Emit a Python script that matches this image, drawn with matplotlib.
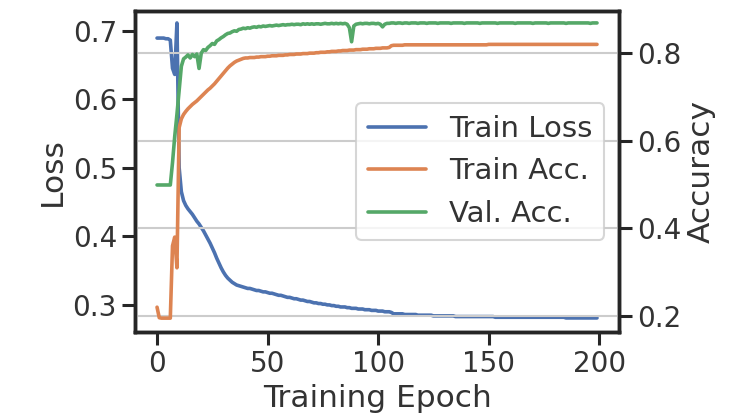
import numpy as np
import matplotlib.pyplot as plt
import seaborn as sns

sns.set_theme(style="ticks", context="talk")
plt.rcParams['font.family'] = ['DejaVu Sans']
plt.rcParams['axes.linewidth'] = 2.5
plt.rcParams['xtick.major.size'] = 9.5
plt.rcParams['ytick.major.size'] = 9.5
plt.rcParams['xtick.major.width'] = 2.2
plt.rcParams['ytick.major.width'] = 2.2
plt.rcParams['text.color'] = '.2'
plt.rcParams['axes.labelcolor'] = '.2'
plt.rcParams['xtick.labelcolor'] = '.2'
plt.rcParams['ytick.labelcolor'] = '.2'

# values, one per epoch (0..199)
train_loss = [
    0.689, 0.689, 0.689, 0.689, 0.688, 0.688, 0.686, 0.645, 0.636, 0.711,
    0.500, 0.465, 0.452, 0.445, 0.440, 0.436, 0.432, 0.427, 0.422, 0.418,
    0.413, 0.408, 0.402, 0.396, 0.390, 0.383, 0.376, 0.368, 0.361, 0.354,
    0.348, 0.343, 0.339, 0.336, 0.333, 0.331, 0.329, 0.328, 0.327, 0.326,
    0.325, 0.324, 0.324, 0.323, 0.322, 0.321, 0.321, 0.320, 0.319, 0.319,
    0.318, 0.317, 0.317, 0.316, 0.315, 0.314, 0.314, 0.313, 0.312, 0.311,
    0.311, 0.310, 0.309, 0.309, 0.308, 0.307, 0.307, 0.306, 0.305, 0.305,
    0.304, 0.303, 0.303, 0.302, 0.302, 0.301, 0.301, 0.300, 0.300, 0.299,
    0.299, 0.298, 0.298, 0.297, 0.297, 0.297, 0.296, 0.296, 0.295, 0.295,
    0.295, 0.294, 0.294, 0.294, 0.293, 0.293, 0.293, 0.292, 0.292, 0.292,
    0.291, 0.291, 0.291, 0.290, 0.290, 0.290, 0.289, 0.287, 0.287, 0.287,
    0.287, 0.287, 0.286, 0.286, 0.286, 0.286, 0.286, 0.286, 0.285, 0.285,
    0.285, 0.285, 0.285, 0.285, 0.285, 0.284, 0.284, 0.284, 0.284, 0.284,
    0.284, 0.284, 0.284, 0.284, 0.284, 0.283, 0.283, 0.283, 0.283, 0.283,
    0.283, 0.283, 0.283, 0.283, 0.283, 0.283, 0.283, 0.283, 0.283, 0.283,
    0.283, 0.283, 0.283, 0.282, 0.282, 0.282, 0.282, 0.282, 0.282, 0.282,
    0.282, 0.282, 0.282, 0.282, 0.282, 0.282, 0.282, 0.282, 0.282, 0.282,
    0.282, 0.282, 0.282, 0.282, 0.282, 0.282, 0.282, 0.282, 0.282, 0.282,
    0.282, 0.282, 0.282, 0.282, 0.282, 0.281, 0.281, 0.281, 0.281, 0.281,
    0.281, 0.281, 0.281, 0.281, 0.281, 0.281, 0.281, 0.281, 0.281, 0.281,
]

train_acc = [
    0.220, 0.196, 0.195, 0.195, 0.195, 0.195, 0.195, 0.360, 0.380, 0.310,
    0.630, 0.650, 0.660, 0.667, 0.673, 0.678, 0.683, 0.687, 0.691, 0.696,
    0.701, 0.706, 0.711, 0.716, 0.720, 0.725, 0.730, 0.736, 0.742, 0.748,
    0.754, 0.760, 0.766, 0.771, 0.775, 0.779, 0.782, 0.784, 0.786, 0.788,
    0.789, 0.789, 0.790, 0.790, 0.790, 0.791, 0.791, 0.792, 0.792, 0.792,
    0.793, 0.793, 0.794, 0.794, 0.794, 0.795, 0.795, 0.795, 0.796, 0.796,
    0.797, 0.797, 0.797, 0.798, 0.798, 0.798, 0.799, 0.799, 0.799, 0.800,
    0.800, 0.800, 0.801, 0.801, 0.802, 0.802, 0.802, 0.803, 0.803, 0.804,
    0.804, 0.804, 0.805, 0.805, 0.806, 0.806, 0.806, 0.807, 0.807, 0.807,
    0.808, 0.808, 0.808, 0.809, 0.809, 0.809, 0.810, 0.810, 0.810, 0.811,
    0.811, 0.811, 0.812, 0.812, 0.812, 0.813, 0.817, 0.818, 0.818, 0.818,
    0.818, 0.818, 0.819, 0.819, 0.819, 0.819, 0.819, 0.819, 0.819, 0.819,
    0.819, 0.819, 0.819, 0.819, 0.819, 0.819, 0.819, 0.819, 0.819, 0.819,
    0.819, 0.819, 0.819, 0.819, 0.819, 0.819, 0.819, 0.819, 0.819, 0.819,
    0.819, 0.819, 0.819, 0.819, 0.819, 0.819, 0.819, 0.819, 0.819, 0.819,
    0.820, 0.820, 0.820, 0.820, 0.820, 0.820, 0.820, 0.820, 0.820, 0.820,
    0.820, 0.820, 0.820, 0.820, 0.820, 0.820, 0.820, 0.820, 0.820, 0.820,
    0.820, 0.820, 0.820, 0.820, 0.820, 0.820, 0.820, 0.820, 0.820, 0.820,
    0.820, 0.820, 0.820, 0.820, 0.820, 0.820, 0.820, 0.820, 0.820, 0.820,
    0.820, 0.820, 0.820, 0.820, 0.820, 0.820, 0.820, 0.820, 0.820, 0.820,
]

val_acc = [
    0.499, 0.499, 0.499, 0.499, 0.499, 0.499, 0.499, 0.550, 0.610, 0.660,
    0.715, 0.770, 0.787, 0.791, 0.796, 0.789, 0.797, 0.792, 0.798, 0.765,
    0.800, 0.808, 0.806, 0.813, 0.817, 0.822, 0.820, 0.828, 0.831, 0.835,
    0.838, 0.842, 0.845, 0.846, 0.849, 0.851, 0.850, 0.854, 0.855, 0.857,
    0.856, 0.858, 0.857, 0.859, 0.860, 0.859, 0.861, 0.860, 0.862, 0.861,
    0.862, 0.863, 0.862, 0.863, 0.864, 0.863, 0.864, 0.865, 0.864, 0.865,
    0.865, 0.866, 0.865, 0.866, 0.866, 0.865, 0.867, 0.866, 0.867, 0.866,
    0.867, 0.866, 0.867, 0.867, 0.866, 0.867, 0.868, 0.867, 0.867, 0.868,
    0.867, 0.868, 0.867, 0.868, 0.867, 0.868, 0.866, 0.858, 0.826, 0.862,
    0.866, 0.867, 0.868, 0.867, 0.868, 0.868, 0.867, 0.868, 0.868, 0.867,
    0.868, 0.866, 0.860, 0.866, 0.868, 0.868, 0.869, 0.869, 0.868, 0.869,
    0.869, 0.868, 0.869, 0.869, 0.868, 0.869, 0.869, 0.869, 0.868, 0.869,
    0.869, 0.869, 0.868, 0.869, 0.869, 0.869, 0.869, 0.868, 0.869, 0.869,
    0.869, 0.869, 0.869, 0.868, 0.869, 0.869, 0.869, 0.869, 0.869, 0.868,
    0.869, 0.869, 0.869, 0.869, 0.869, 0.869, 0.868, 0.869, 0.869, 0.869,
    0.869, 0.869, 0.869, 0.869, 0.868, 0.869, 0.869, 0.869, 0.869, 0.869,
    0.869, 0.869, 0.868, 0.869, 0.869, 0.869, 0.869, 0.869, 0.869, 0.869,
    0.868, 0.869, 0.869, 0.869, 0.869, 0.869, 0.869, 0.868, 0.869, 0.869,
    0.869, 0.869, 0.869, 0.869, 0.869, 0.868, 0.869, 0.869, 0.869, 0.869,
    0.869, 0.869, 0.869, 0.869, 0.869, 0.869, 0.868, 0.869, 0.869, 0.869,
]

epochs = np.arange(len(train_loss))
colors = sns.color_palette("deep")

fig, ax = plt.subplots(figsize=(7.44, 4.17), dpi=100)
fig.subplots_adjust(left=0.1815, right=0.832, bottom=0.204, top=0.974)
ax2 = ax.twinx()

l1, = ax.plot(epochs, train_loss, color=colors[0], lw=2.6, label='Train Loss')
l2, = ax2.plot(epochs, train_acc, color=colors[1], lw=2.6, label='Train Acc.')
l3, = ax2.plot(epochs, val_acc, color=colors[2], lw=2.6, label='Val. Acc.')

ax2.grid(axis='y', color='.8', lw=1.5)

ax.set_ylim(0.2606, 0.7287)
ax2.set_ylim(0.1635, 0.8966)
ax.set_yticks([0.3, 0.4, 0.5, 0.6, 0.7])
ax2.set_yticks([0.2, 0.4, 0.6, 0.8])
ax.set_xticks([0, 50, 100, 150, 200])

ax.set_xlabel('Training Epoch', fontsize=22.5)
ax.set_ylabel('Loss', fontsize=22.5)
ax2.set_ylabel('Accuracy', fontsize=22.5)
ax.tick_params(labelsize=20)
ax2.tick_params(labelsize=20)

ax2.legend(handles=[l1, l2, l3], loc='center right', fontsize=21)

plt.savefig('out.png', dpi=100)
